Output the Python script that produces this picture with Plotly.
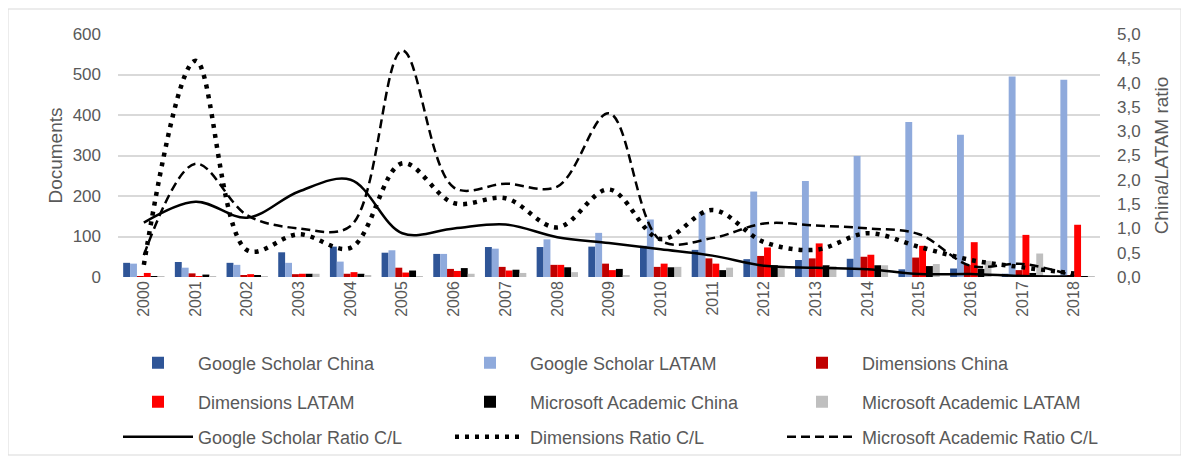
import plotly.graph_objects as go

years = [str(y) for y in range(2000, 2019)]

gs_china = [35, 37, 35, 61, 75, 60, 57, 74, 74, 75, 77, 67, 44, 42, 45, 19, 21, 8, 2]
gs_latam = [33, 23, 30, 35, 38, 66, 57, 70, 93, 109, 142, 159, 211, 237, 299, 383, 351, 495, 487]
dim_china = [2, 9, 3, 7, 8, 23, 20, 25, 30, 33, 25, 46, 52, 46, 50, 48, 30, 17, 5]
dim_latam = [10, 2, 7, 8, 12, 11, 15, 16, 30, 17, 33, 33, 73, 83, 55, 77, 86, 104, 129]
ma_china = [1, 6, 4, 8, 8, 16, 22, 18, 24, 20, 24, 17, 29, 29, 29, 27, 20, 10, 1]
ma_latam = [2, 2, 2, 8, 5, 2, 8, 10, 12, 5, 25, 23, 25, 27, 29, 32, 40, 58, 1]

gs_ratio = [1.12, 1.55, 1.22, 1.76, 2.0, 0.9, 1.0, 1.08, 0.82, 0.7, 0.57, 0.44, 0.23, 0.19, 0.16, 0.06, 0.06, 0.02, 0.01]
dim_ratio = [0.25, 4.45, 0.55, 0.88, 0.6, 2.34, 1.52, 1.62, 1.02, 1.8, 0.78, 1.38, 0.72, 0.56, 0.9, 0.62, 0.35, 0.2, 0.07]
ma_ratio = [0.45, 2.33, 1.27, 1.0, 1.05, 4.66, 1.84, 1.92, 1.86, 3.37, 0.75, 0.8, 1.1, 1.06, 1.0, 0.88, 0.23, 0.27, 0.02]

FONT = "Liberation Sans, Arial, sans-serif"
TXT = "#595959"
W, H = 1181, 457  # the page adds an 8px body margin

fig = go.Figure()

bars = [
    ("Google Scholar China", gs_china, "#2F5597"),
    ("Google Scholar LATAM", gs_latam, "#8FAADC"),
    ("Dimensions China", dim_china, "#C00000"),
    ("Dimensions LATAM", dim_latam, "#FF0000"),
    ("Microsoft Academic China", ma_china, "#000000"),
    ("Microsoft Academic LATAM", ma_latam, "#BFBFBF"),
]
lines = [
    ("Google Scholar Ratio C/L", gs_ratio, "solid", 2.5),
    ("Dimensions Ratio C/L", dim_ratio, "4px,6px", 4.5),
    ("Microsoft Academic Ratio C/L", ma_ratio, "9px,5px", 2.5),
]

legend_names = ["legend"] + ["legend%d" % i for i in range(2, 10)]
col_x = [110, 442, 774]          # container px
row_y = [355, 394, 429]          # container px from top

for i, (name, vals, col) in enumerate(bars):
    fig.add_trace(go.Bar(x=years, y=vals, name=name, marker_color=col,
                         marker_line_width=0, legend=legend_names[i]))

for j, (name, vals, dash, w) in enumerate(lines):
    fig.add_trace(go.Scatter(x=years, y=vals, name=name, mode="lines", yaxis="y2",
                             line=dict(color="black", width=w, dash=dash,
                                       shape="spline", smoothing=1.0),
                             legend=legend_names[6 + j]))

legends = {}
for k, lname in enumerate(legend_names):
    r, c = divmod(k, 3)
    legends[lname] = dict(orientation="h", xref="container", yref="container",
                          x=col_x[c] / W, y=1 - row_y[r] / H,
                          xanchor="left", yanchor="middle",
                          font=dict(family=FONT, size=18, color=TXT),
                          bgcolor="rgba(0,0,0,0)", itemwidth=70)

fig.update_layout(
    width=W, height=H,
    margin=dict(l=110, r=89, t=26, b=188),
    paper_bgcolor="white", plot_bgcolor="white",
    font=dict(family=FONT, size=16, color=TXT),
    separators=",.",
    barmode="group", bargap=0.2, bargroupgap=0,
    xaxis=dict(type="category", tickangle=-90, showgrid=False, ticks="",
               tickfont=dict(size=16, color=TXT), showline=False, automargin=False),
    yaxis=dict(range=[0, 600], dtick=100, showgrid=True, gridcolor="#D9D9D9",
               gridwidth=1.5, zeroline=False, ticks="", ticklabelstandoff=16,
               automargin=False,
               title=dict(text="Documents", font=dict(size=19, color=TXT), standoff=4),
               tickfont=dict(size=17, color=TXT)),
    yaxis2=dict(range=[0, 5], dtick=0.5, tickformat=".1f", overlaying="y", side="right",
                showgrid=False, zeroline=False, ticks="", ticklabelstandoff=16,
                automargin=False,
                title=dict(text="China/LATAM ratio", font=dict(size=19, color=TXT), standoff=15),
                tickfont=dict(size=17, color=TXT)),
    showlegend=True,
    **legends,
)

fig.add_shape(type="rect", xref="paper", yref="paper",
              x0=(8 - 118) / 982, x1=(1181 - 118) / 982,
              y0=(277 - 455) / 243, y1=(277 - 9) / 243,
              line=dict(color="#D9D9D9", width=1), fillcolor="rgba(0,0,0,0)", layer="below")

fig.write_html("out.html")
